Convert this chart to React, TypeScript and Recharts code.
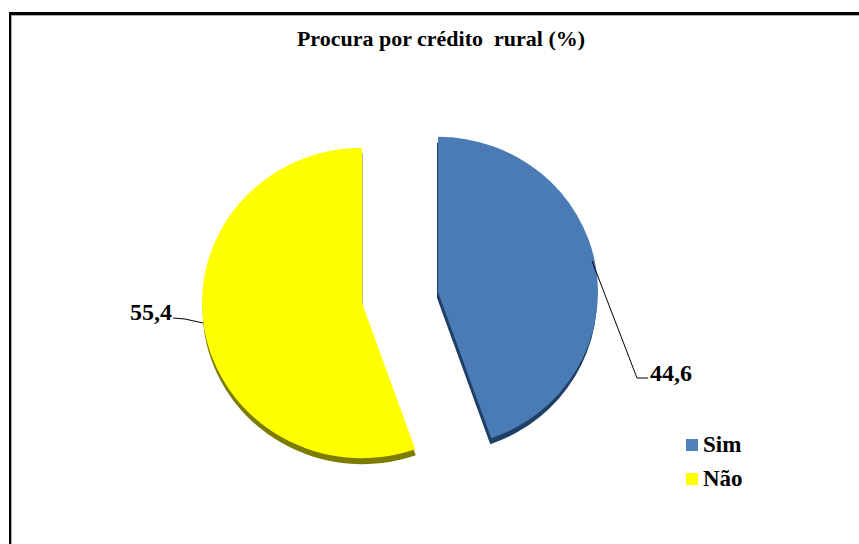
import React from 'react';
import { PieChart, Pie, Cell, Sector, Legend } from 'recharts';

const categories = ['Sim', 'Não'];
const values = [44.6, 55.4];
const valueLabels = ['44,6', '55,4'];

const data = categories.map((name, i) => ({ name, value: values[i] }));

const FACE_COLORS = ['#4B7BB5', '#FFFF00'];
const SIDE_COLORS = ['#1F3F66', '#7C7C00'];
const LEGEND_COLORS = ['#4F81BD', '#FFFF00'];

const FONT = '"Liberation Serif", serif';
const CX = 400;
const CY = 296;
const RADIUS = 160;
const SQUASH = 0.97;

// how far each slice is pulled out of the pie
const EXPLODE = [
  { x: 38, y: -4 },
  { x: -38, y: 7 },
];

// offset of the dark 3D side under each slice
const SIDE_SHIFT = [
  { x: -1, y: 6 },
  { x: 0.5, y: 6 },
];
const NO_SHIFT = [
  { x: 0, y: 0 },
  { x: 0, y: 0 },
];

// leader line and text of each value label
const LABELS = [
  { path: 'M592 261 L637 378 L648 378', x: 650, y: 381 },
  { path: 'M203 323 L185 319 L173 318', x: 130, y: 320 },
];

function sliceShape(shift: { x: number; y: number }[]) {
  return (props: any) => {
    const off = EXPLODE[props.index];
    const s = shift[props.index];
    const { cx, cy } = props;
    const t = `translate(${off.x + s.x} ${off.y + s.y}) translate(${cx} ${cy}) scale(1 ${SQUASH}) translate(${-cx} ${-cy})`;
    return (
      <g transform={t}>
        <Sector {...props} />
      </g>
    );
  };
}

function renderLabel(props: any) {
  const l = LABELS[props.index];
  return (
    <g key={props.index}>
      <path d={l.path} fill="none" stroke="#000" strokeWidth={1} />
      <text x={l.x} y={l.y} fontFamily={FONT} fontSize={24} fontWeight="bold" fill="#000">
        {valueLabels[props.index]}
      </text>
    </g>
  );
}

function renderLegend() {
  return (
    <div style={{ fontFamily: FONT, fontSize: 23, fontWeight: 'bold', color: '#000' }}>
      {categories.map((c, i) => (
        <div key={c} style={{ display: 'flex', alignItems: 'center', height: 34 }}>
          <span style={{ width: 12, height: 12, background: LEGEND_COLORS[i], marginRight: 5 }} />
          {c}
        </div>
      ))}
    </div>
  );
}

export default function App() {
  return (
    <div style={{ position: 'absolute', left: 0, top: 0, width: 859, height: 544, overflow: 'hidden', background: '#fff' }}>
      <div
        style={{
          position: 'absolute',
          left: 9,
          top: 12,
          width: 860,
          height: 540,
          borderTop: '3px solid #000',
          borderLeft: '2px solid #000',
          boxShadow: 'inset 1px 1px 0 #aaa',
        }}
      />
      <div style={{ position: 'absolute', left: 0, top: 0 }}>
        <PieChart width={859} height={544} margin={{ top: 0, right: 0, bottom: 0, left: 0 }}>
          <text x={441} y={46} textAnchor="middle" fontFamily={FONT} fontSize={22} fontWeight="bold" fill="#000" style={{ whiteSpace: 'pre' }}>
            {'Procura por crédito  rural (%)'}
          </text>
          <Pie
            data={data}
            dataKey="value"
            nameKey="name"
            cx={CX}
            cy={CY}
            outerRadius={RADIUS}
            startAngle={90}
            endAngle={-270}
            stroke="none"
            legendType="none"
            shape={sliceShape(SIDE_SHIFT)}
            isAnimationActive={false}
          >
            {data.map((d, i) => (
              <Cell key={d.name} fill={SIDE_COLORS[i]} />
            ))}
          </Pie>
          <Pie
            data={data}
            dataKey="value"
            nameKey="name"
            cx={CX}
            cy={CY}
            outerRadius={RADIUS}
            startAngle={90}
            endAngle={-270}
            stroke="none"
            shape={sliceShape(NO_SHIFT)}
            label={renderLabel}
            labelLine={false}
            isAnimationActive={false}
          >
            {data.map((d, i) => (
              <Cell key={d.name} fill={FACE_COLORS[i]} />
            ))}
          </Pie>
          <Legend
            layout="vertical"
            content={renderLegend}
            wrapperStyle={{ left: 686, top: 428, width: 100, bottom: 'auto' }}
          />
        </PieChart>
      </div>
    </div>
  );
}
